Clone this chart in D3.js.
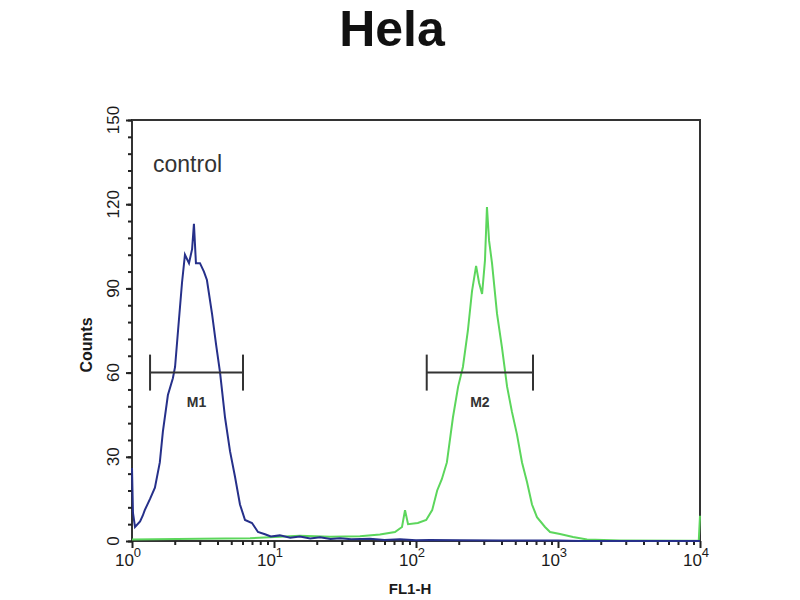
<!DOCTYPE html>
<html>
<head>
<meta charset="utf-8">
<script src="https://cdn.jsdelivr.net/npm/d3@7"></script>
<style>
  body { margin: 0; background: #fff; }
  text { font-family: "Liberation Sans", Arial, sans-serif; fill: #222; }
</style>
</head>
<body>
<div id="chart"></div>
<script>
// Control (blue) histogram: FL1-H channel value, counts
const controlX = [1.0, 1.016, 1.05, 1.14, 1.19, 1.23, 1.34, 1.45, 1.57, 1.65, 1.79, 1.94, 2.01, 2.11, 2.25, 2.36, 2.52, 2.65, 2.73, 2.82, 3.01, 3.21, 3.37, 3.66, 3.91, 4.17, 4.52, 4.90, 5.31, 5.76, 6.25, 7.0, 7.71, 8.64, 9.5, 11.0, 13.0, 15.2, 18.0, 21.1, 25.0, 29.2, 35.0, 47.4, 60.0, 77.1, 100, 125, 204, 400, 1000, 1450, 10000];
const controlY = [26, 10, 5, 7, 9, 11, 15, 19, 28, 39, 52, 58, 62, 75, 92, 102, 99, 104, 113, 99, 99, 96, 93, 81, 70, 60, 44, 32, 23, 13, 7.5, 6.4, 3.2, 2.4, 1.6, 2, 1.2, 1.6, 0.9, 1.3, 0.7, 1.0, 0.6, 0.8, 0.4, 0.6, 0.3, 0.4, 0.3, 0.2, 0.2, 0, 0];

// Sample (green) histogram
const sampleX = [1.0, 3.01, 6.78, 11.0, 15.2, 24.8, 40.3, 55.7, 71.1, 79.7, 83.7, 87.9, 103, 118, 130, 141, 152, 165, 182, 198, 214, 232, 248, 265, 278, 292, 306, 316, 327, 343, 372, 403, 438, 474, 514, 558, 605, 656, 711, 810, 879, 1033, 1276, 1601, 2733, 8510, 9800, 10000];
const sampleY = [0.5, 0.8, 1.0, 1.5, 1.9, 1.5, 1.7, 2.3, 3.2, 5, 11, 6, 6.4, 7.5, 11, 18, 22, 28, 44, 55, 62, 75, 89, 98, 92, 88, 100, 119, 107, 99, 81, 69, 55, 46, 38, 28, 21, 13, 8.5, 5, 3.2, 2.5, 1.4, 0.5, 0.2, 0.1, 0.1, 9];

// Markers
const markerNames = ["M1", "M2"];
const markerStart = [1.34, 119];
const markerEnd = [6.05, 667];
const markerLevel = 60;

const yTicks = [0, 30, 60, 90, 120, 150];
const xTicks = [1, 10, 100, 1000, 10000];
const xExp = ["0", "1", "2", "3", "4"];

const W = 800, H = 600;
const svg = d3.select("#chart").append("svg").attr("width", W).attr("height", H);

const x = d3.scaleLog().domain([1, 10000]).range([132, 700]);
const y = d3.scaleLinear().domain([0, 150]).range([541, 120]);

// title
svg.append("text").attr("x", 392).attr("y", 46).attr("text-anchor", "middle")
  .style("font-size", "50px").style("font-weight", "bold").style("fill", "#111").text("Hela");

// frame
svg.append("rect").attr("x", x(1)).attr("y", y(150))
  .attr("width", x(10000) - x(1)).attr("height", y(0) - y(150))
  .attr("fill", "none").attr("stroke", "#333").attr("stroke-width", 2);

// minor ticks
const yMinor = d3.range(0, 151, 6);
svg.append("g").attr("transform", `translate(${x(1)},0)`)
  .call(d3.axisLeft(y).tickValues(yMinor).tickSize(4).tickFormat(""))
  .call(g => g.select(".domain").remove())
  .selectAll("line").attr("stroke", "#222").attr("stroke-width", 2);
svg.append("g").attr("transform", `translate(${x(1)},0)`)
  .call(d3.axisLeft(y).tickValues(yTicks).tickSize(6).tickFormat(""))
  .call(g => g.select(".domain").remove())
  .selectAll("line").attr("stroke", "#222").attr("stroke-width", 2);

const xMinor = [];
for (let d = 1; d < 10000; d *= 10) for (let k = 2; k <= 9; k++) xMinor.push(d * k);
svg.append("g").attr("transform", `translate(0,${y(0)})`)
  .call(d3.axisBottom(x).tickValues(xMinor).tickSize(4).tickFormat(""))
  .call(g => g.select(".domain").remove())
  .selectAll("line").attr("stroke", "#222").attr("stroke-width", 2);
svg.append("g").attr("transform", `translate(0,${y(0)})`)
  .call(d3.axisBottom(x).tickValues(xTicks).tickSize(7).tickFormat(""))
  .call(g => g.select(".domain").remove())
  .selectAll("line").attr("stroke", "#222").attr("stroke-width", 2);

// y tick labels (rotated)
svg.selectAll(".ylab").data(yTicks).enter().append("text")
  .attr("transform", d => `translate(119,${y(d)}) rotate(-90)`)
  .attr("text-anchor", "middle")
  .style("font-size", "17px").style("fill", "#1a1a1a").text(d => d);

// x tick labels with superscripts
const xl = svg.selectAll(".xlab").data(xTicks).enter().append("text")
  .attr("x", d => x(d) - 4).attr("y", 566).attr("text-anchor", "middle")
  .style("font-size", "17px").style("fill", "#1a1a1a");
xl.append("tspan").text("10");
xl.append("tspan").attr("dy", -9).style("font-size", "13px").text((d, i) => xExp[i]);

// axis titles
svg.append("text").attr("transform", "translate(92,345) rotate(-90)")
  .attr("text-anchor", "middle").style("font-size", "16px").style("font-weight", "bold")
  .style("fill", "#1a1a1a").text("Counts");
svg.append("text").attr("x", 410).attr("y", 594).attr("text-anchor", "middle")
  .style("font-size", "15px").style("font-weight", "bold").style("fill", "#1a1a1a").text("FL1-H");

svg.append("text").attr("x", 153).attr("y", 172)
  .style("font-size", "23px").style("fill", "#333").text("control");

// curves
const line = d3.line().x(d => x(d[0])).y(d => y(d[1]));
svg.append("path").datum(d3.zip(sampleX, sampleY))
  .attr("d", line).attr("fill", "none").attr("stroke", "#5cd65c").attr("stroke-width", 2);
svg.append("path").datum(d3.zip(controlX, controlY))
  .attr("d", line).attr("fill", "none").attr("stroke", "#26308a").attr("stroke-width", 2);

// markers
markerNames.forEach((m, i) => {
  const x0 = x(markerStart[i]), x1 = x(markerEnd[i]), yy = y(markerLevel);
  const g = svg.append("g").attr("stroke", "#333").attr("stroke-width", 2);
  g.append("line").attr("x1", x0).attr("x2", x1).attr("y1", yy).attr("y2", yy);
  g.append("line").attr("x1", x0).attr("x2", x0).attr("y1", yy - 18).attr("y2", yy + 18);
  g.append("line").attr("x1", x1).attr("x2", x1).attr("y1", yy - 18).attr("y2", yy + 18);
  svg.append("text").attr("x", (x0 + x1) / 2).attr("y", yy + 34).attr("text-anchor", "middle")
    .style("font-size", "14px").style("font-weight", "bold").style("fill", "#333").text(m);
});
</script>
</body>
</html>
